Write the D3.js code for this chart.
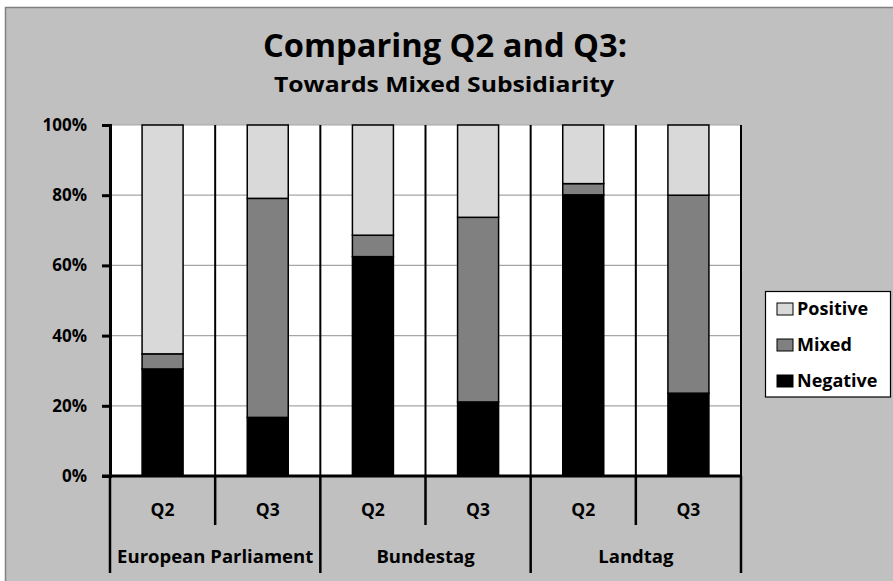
<!DOCTYPE html>
<html><head><meta charset="utf-8">
<script src="https://cdn.jsdelivr.net/npm/d3@7"></script>
<style>body{margin:0;background:#fff}svg{display:block}text{font-family:"Open Sans",Lato,sans-serif;font-weight:bold;fill:#000}</style>
</head><body><svg id="c" width="893" height="581"></svg>
<script>
const groups = ["European Parliament","Bundestag","Landtag"];
const questions = ["Q2","Q3"];
const categories = ["EP-Q2","EP-Q3","BT-Q2","BT-Q3","LT-Q2","LT-Q3"];
const negative = [30.5, 16.7, 62.5, 21.1, 80.1, 23.6];
const mixed    = [4.3, 62.4, 6.1, 52.6, 3.2, 56.4];
const positive = [65.2, 20.9, 31.4, 26.3, 16.7, 20.0];
const seriesNames = ["Negative","Mixed","Positive"];
const seriesColors = ["#000000","#808080","#d9d9d9"];
const yTicks = [0,20,40,60,80,100];

const svg = d3.select("#c");
svg.append("rect").attr("x",5.5).attr("y",7.5).attr("width",900).attr("height",600)
  .attr("fill","#c0c0c0").attr("stroke","#808080").attr("stroke-width",1.5);

const L=110, R=741, T=125, B=476;
const x = d3.scaleBand().domain(categories).range([L,R]).padding(0);
const y = d3.scaleLinear().domain([0,100]).range([B,T]);

svg.append("rect").attr("x",L).attr("y",T).attr("width",R-L).attr("height",B-T).attr("fill","#fff");

svg.append("g").selectAll("line").data(yTicks.filter(d=>d>0)).join("line")
  .attr("x1",L).attr("x2",R).attr("y1",d=>y(d)).attr("y2",d=>y(d))
  .attr("stroke","#a6a6a6").attr("stroke-width",1.2);

svg.append("g").selectAll("line").data(categories.slice(1)).join("line")
  .attr("x1",d=>x(d)).attr("x2",d=>x(d)).attr("y1",T).attr("y2",B)
  .attr("stroke","#000").attr("stroke-width",2);
svg.append("line").attr("x1",R).attr("x2",R).attr("y1",T).attr("y2",B).attr("stroke","#000").attr("stroke-width",2);

const table = categories.map((c,i)=>({cat:c, Negative:negative[i], Mixed:mixed[i], Positive:positive[i]}));
const stack = d3.stack().keys(seriesNames)(table);
const bw = x.bandwidth()*0.39;
svg.append("g").selectAll("g").data(stack).join("g")
  .attr("fill",(d,i)=>seriesColors[i])
  .selectAll("rect").data(d=>d).join("rect")
  .attr("x",d=>x(d.data.cat)+x.bandwidth()/2-bw/2)
  .attr("width",bw)
  .attr("y",d=>y(d[1]))
  .attr("height",d=>y(d[0])-y(d[1]))
  .attr("stroke","#000").attr("stroke-width",1.5);

const yAxis = d3.axisLeft(y).tickValues(yTicks).tickFormat(d=>d+"%").tickSize(8).tickPadding(15);
const ya = svg.append("g").attr("transform",`translate(${L},0)`).call(yAxis);
ya.select(".domain").attr("stroke","#000").attr("stroke-width",3);
ya.selectAll(".tick line").attr("stroke","#000").attr("stroke-width",3);
ya.selectAll(".tick text").attr("font-size",17).attr("font-family","Open Sans").attr("font-weight","bold").attr("fill","#000");

svg.append("line").attr("x1",L-8).attr("x2",R).attr("y1",B).attr("y2",B).attr("stroke","#000").attr("stroke-width",3);

const bounds = categories.map((c,i)=>({x:x(c), long: i%2===0})).concat([{x:R,long:true}]);
svg.append("g").selectAll("line").data(bounds).join("line")
  .attr("x1",d=>d.x).attr("x2",d=>d.x).attr("y1",B).attr("y2",d=>d.long?573:525)
  .attr("stroke","#000").attr("stroke-width",2.5);

svg.append("g").selectAll("text").data(categories).join("text")
  .attr("x",d=>x(d)+x.bandwidth()/2).attr("y",516)
  .attr("text-anchor","middle").attr("font-size",17.5)
  .text((d,i)=>questions[i%2]);
svg.append("g").selectAll("text").data(groups).join("text")
  .attr("x",(d,i)=>x(categories[i*2])+x.bandwidth()).attr("y",563)
  .attr("text-anchor","middle").attr("font-size",18.5)
  .text(d=>d);

svg.append("text").attr("x",445).attr("y",57).attr("text-anchor","middle").attr("font-size",32)
  .attr("textLength",364).attr("lengthAdjust","spacingAndGlyphs").text("Comparing Q2 and Q3:");
svg.append("text").attr("x",444).attr("y",92).attr("text-anchor","middle").attr("font-size",22)
  .attr("textLength",340).attr("lengthAdjust","spacingAndGlyphs").text("Towards Mixed Subsidiarity");

const lg = svg.append("g");
lg.append("rect").attr("x",765.5).attr("y",291.5).attr("width",125).attr("height",105.5).attr("fill","#fff").attr("stroke","#000").attr("stroke-width",1.2);
const legendItems = seriesNames.map((n,i)=>({name:n,color:seriesColors[i]})).reverse();
const li = lg.selectAll("g").data(legendItems).join("g").attr("transform",(d,i)=>`translate(777,${303+i*36})`);
li.append("rect").attr("width",16).attr("height",12).attr("fill",d=>d.color).attr("stroke","#000").attr("stroke-width",1);
li.append("text").attr("x",20).attr("y",12).attr("font-size",18).text(d=>d.name);
</script></body></html>
